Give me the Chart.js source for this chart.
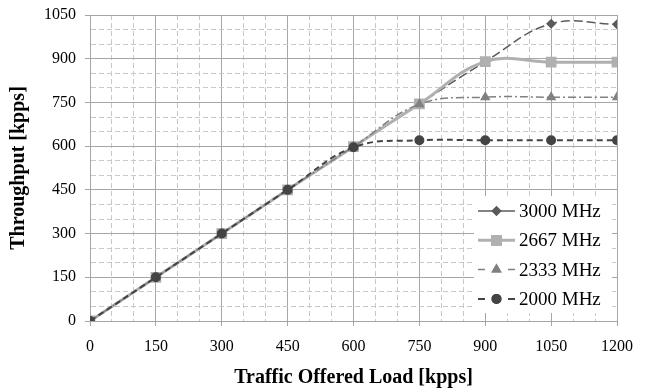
<!DOCTYPE html>
<html>
<head>
<meta charset="utf-8">
<script src="https://cdn.jsdelivr.net/npm/chart.js@4/dist/chart.umd.min.js"></script>
<style>
  html, body { margin: 0; padding: 0; background: #fff; }
  #wrap { width: 651px; height: 390px; }
</style>
</head>
<body>
<div id="wrap"><canvas id="c" width="651" height="390"></canvas></div>
<script>
// offered load (x) and throughput per CPU clock (y), kpps
const loads = [0, 150, 300, 450, 600, 750, 900, 1050, 1200];
const seriesNames = ['3000 MHz', '2667 MHz', '2333 MHz', '2000 MHz'];
const mhz3000 = [0, 150, 300, 450, 598, 745, 890, 1020, 1018];
const mhz2667 = [0, 150, 300, 450, 598, 745, 890, 888, 888];
const mhz2333 = [0, 150, 300, 450, 598, 744, 768, 768, 768];
const mhz2000 = [0, 150, 300, 450, 596, 620, 620, 620, 620];
const yMajor = 150, xMajor = 150, minorStep = 50;

Chart.defaults.font.family = "'Liberation Serif', 'Times New Roman', serif";
Chart.defaults.color = '#000';

const pts = arr => arr.map((v, i) => ({ x: loads[i], y: v }));

const majorCol = '#a6a6a6';
const minorCol = '#c8c8c8';

// legend drawn inside the plot, bottom right, like the excel one
const boxLegend = {
  id: 'boxLegend',
  afterDraw(chart) {
    const { ctx, chartArea } = chart;
    const right = chartArea.right - 5;
    const bottom = chartArea.bottom - 8;
    const w = 138, h = 117;
    const left = right - w, top = bottom - h;
    ctx.save();
    ctx.fillStyle = '#fff';
    ctx.fillRect(left, top, w, h);
    chart.data.datasets.forEach((ds, i) => {
      const y = top + 15 + i * 29.3;
      const x0 = left + 4, x1 = left + 41;
      ctx.strokeStyle = ds.borderColor;
      ctx.lineWidth = ds.borderWidth;
      ctx.setLineDash(ds.legendDash);
      ctx.beginPath();
      ctx.moveTo(x0, y);
      ctx.lineTo(x1, y);
      ctx.stroke();
      ctx.setLineDash([]);
      Chart.helpers.drawPoint(ctx, {
        pointStyle: ds.pointStyle,
        radius: ds.pointRadius,
        rotation: 0,
        borderWidth: 1
      }, (x0 + x1) / 2, y);
      ctx.fillStyle = ds.pointBackgroundColor;
      ctx.strokeStyle = ds.pointBorderColor;
      ctx.fill();
      ctx.stroke();
      ctx.fillStyle = '#000';
      ctx.font = "19px 'Liberation Serif'";
      ctx.textBaseline = 'middle';
      ctx.fillText(ds.label, x1 + 4, y + 1);
    });
    ctx.restore();
  }
};

new Chart(document.getElementById('c'), {
  type: 'line',
  data: {
    datasets: [
      {
        label: seriesNames[0], data: pts(mhz3000), order: 3,
        borderColor: '#5a5a5a', borderWidth: 1.5, borderDash: [9, 4],
        pointStyle: 'rectRot', pointRadius: 4,
        pointBackgroundColor: '#5a5a5a', pointBorderColor: '#5a5a5a',
        legendDash: []
      },
      {
        label: seriesNames[1], data: pts(mhz2667), order: 2,
        borderColor: '#b0b0b0', borderWidth: 3, borderDash: [],
        pointStyle: 'rect', pointRadius: 5.5,
        pointBackgroundColor: '#b0b0b0', pointBorderColor: '#b0b0b0',
        legendDash: []
      },
      {
        label: seriesNames[2], data: pts(mhz2333), order: 1,
        borderColor: '#808080', borderWidth: 1.5, borderDash: [8, 3, 2, 3],
        pointStyle: 'triangle', pointRadius: 4.5,
        pointBackgroundColor: '#808080', pointBorderColor: '#808080',
        legendDash: [7, 23]
      },
      {
        label: seriesNames[3], data: pts(mhz2000), order: 0,
        borderColor: '#444444', borderWidth: 2, borderDash: [6, 4],
        pointStyle: 'circle', pointRadius: 4,
        pointBackgroundColor: '#444444', pointBorderColor: '#444444',
        legendDash: [7, 23]
      }
    ]
  },
  options: {
    responsive: false,
    animation: false,
    layout: { padding: { top: 15, right: 34, left: 0, bottom: 0 } },
    elements: { line: { tension: 0.4 } },
    plugins: { legend: { display: false }, tooltip: { enabled: false } },
    scales: {
      x: {
        type: 'linear', min: 0, max: 1200,
        afterFit: s => { s.height = 69; },
        ticks: {
          stepSize: minorStep, autoSkip: false, maxRotation: 0, padding: 11,
          font: { size: 16 },
          callback: v => (v % xMajor === 0 ? v : '')
        },
        grid: {
          color: c => (c.tick && c.tick.value % xMajor === 0 ? majorCol : minorCol),
          tickColor: c => (c.tick && c.tick.value % xMajor === 0 ? majorCol : 'rgba(0,0,0,0)'),
          tickLength: 5, lineWidth: 1
        },
        border: {
          color: majorCol,
          dash: c => (c.tick && c.tick.value % xMajor !== 0 ? [5, 3] : [])
        },
        title: {
          display: true, text: 'Traffic Offered Load [kpps]',
          font: { size: 20, weight: 'bold' }, padding: { top: 0, bottom: 0 }
        }
      },
      y: {
        min: 0, max: 1050,
        afterFit: s => { s.width = 90; s.paddingTop = 0; s.paddingBottom = 0; },
        ticks: {
          stepSize: minorStep, autoSkip: false, padding: 9,
          font: { size: 16 },
          callback: v => (v % yMajor === 0 ? v : '')
        },
        grid: {
          color: c => (c.tick && c.tick.value % yMajor === 0 ? majorCol : minorCol),
          tickColor: c => (c.tick && c.tick.value % yMajor === 0 ? majorCol : 'rgba(0,0,0,0)'),
          tickLength: 5, lineWidth: 1
        },
        border: {
          color: majorCol,
          dash: c => (c.tick && c.tick.value % yMajor !== 0 ? [5, 3] : [])
        },
        title: {
          display: true, text: 'Throughput [kpps]',
          font: { size: 20, weight: 'bold' }, padding: { top: 7, bottom: 0 }
        }
      }
    }
  },
  plugins: [boxLegend]
});
</script>
</body>
</html>
